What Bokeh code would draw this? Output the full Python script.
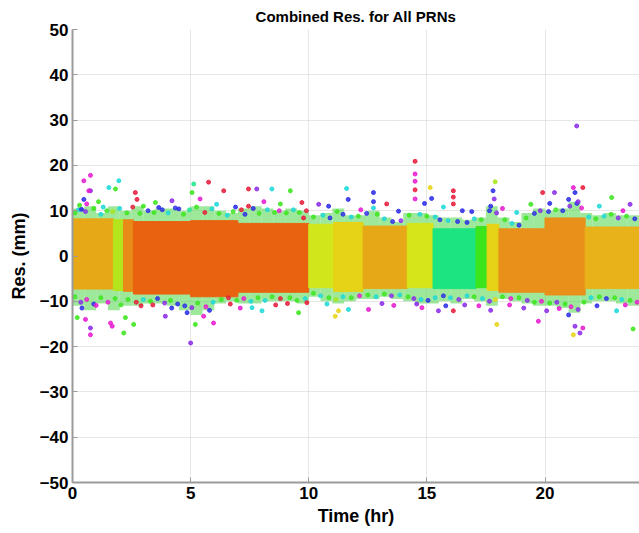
from bokeh.plotting import figure
from bokeh.models import FixedTicker, ColumnDataSource, Range1d
from bokeh.embed import file_html
from bokeh.resources import INLINE

# ---- core (dense) residual bands: one block per satellite pass segment ----
core_t0 = [0.0, 1.73, 2.16, 2.58, 5.0, 7.0, 10.0, 11.05, 12.3, 14.17, 15.26, 17.08, 17.55, 18.05, 20.0, 21.7]
core_t1 = [1.73, 2.16, 2.58, 5.0, 7.0, 10.0, 11.05, 12.3, 14.17, 15.26, 17.08, 17.55, 18.05, 20.0, 21.7, 24.0]
core_top = [8.2, 8.0, 8.0, 7.6, 7.8, 7.2, 7.0, 7.4, 6.6, 7.2, 6.0, 6.5, 7.0, 6.0, 8.4, 6.4]
core_bot = [-7.3, -7.6, -7.8, -8.4, -9.0, -8.0, -7.0, -7.8, -7.2, -7.0, -7.2, -7.0, -7.6, -8.0, -8.6, -7.2]
core_color = ["#E6A817", "#B4E41B", "#E88A18", "#E8620F", "#E8620F", "#E8620F", "#D2E61C",
              "#E6D216", "#E6A816", "#D6E41A", "#1CE480", "#3CE41C", "#E6D216", "#E8901A",
              "#E8901A", "#E8B21A"]

# ---- fringe envelope of scattered residuals, per half-hour bin ----
fringe_t0 = [i * 0.5 for i in range(48)]
fringe_hi = [10.5, 11, 9.5, 11, 10, 11, 10, 10.5, 10.5, 10, 11, 11, 10, 9.5, 10.5, 11,
             10.5, 10, 10.5, 10, 9, 9.5, 10.5, 9, 9, 10, 8.5, 7.5, 9.5, 9.5, 9, 8.5,
             8.5, 8, 8.5, 11, 8.5, 7.5, 9.5, 10.5, 10, 10.5, 12, 9.5, 9, 9.5, 9, 9]
fringe_lo = [-11, -12, -10.5, -12, -11, -11, -10.5, -10.5, -11, -12, -13, -12, -10.5, -10,
             -10.5, -10.5, -10, -10, -10, -10.5, -9, -10, -10.5, -10, -9.5, -9.5, -9, -9.5,
             -10, -10.5, -10.5, -10, -10.5, -9.5, -10, -11, -9.5, -10, -10.5, -11, -11,
             -11.5, -12.5, -10.5, -10, -10, -10.5, -11]

palette = ["#E81AD0", "#2A2AE8", "#3AE61A", "#1AD8D8", "#E81A3A", "#8A2AE8", "#A8E61A", "#E8D414", "#1AE68A"]

# ---- residuals in the fringe just outside the dense band (time hr, mm, colour index) ----
fr_t = [0.1, 0.25, 0.55, 0.9, 1.2, 1.45, 1.7, 2.0, 2.3, 2.55, 2.85, 3.2, 3.45, 3.8, 4.05, 4.35, 4.7,
        4.95, 5.25, 5.6, 5.9, 6.2, 6.55, 6.8, 7.15, 7.3, 7.65, 7.9, 8.25, 8.55, 8.75, 9.05, 9.35,
        9.6, 9.9, 10.2, 10.6, 10.9, 11.2, 11.45, 11.8, 12.1, 12.45, 12.9, 13.2, 13.55, 13.9, 14.25,
        14.7, 15.0, 15.35, 15.55, 15.9, 16.3, 16.7, 17.0, 17.3, 17.65, 17.95, 18.3, 18.6, 18.9,
        19.2, 19.55, 19.8, 20.15, 20.45, 20.75, 21.05, 21.35, 21.55, 21.85, 22.15, 22.5, 22.8,
        23.1, 23.45, 23.8,
        0.1, 0.35, 0.6, 0.9, 1.2, 1.5, 1.8, 2.05, 2.35, 2.7, 3.0, 3.3, 3.6, 3.9, 4.15, 4.45, 4.75,
        5.05, 5.3, 5.65, 5.95, 6.3, 6.6, 6.95, 7.25, 7.55, 7.85, 8.15, 8.45, 8.8, 9.2, 9.5, 9.85,
        10.2, 10.5, 10.85, 11.15, 11.45, 11.8, 12.15, 12.5, 12.85, 13.2, 13.5, 13.85, 14.2, 14.45,
        14.75, 15.05, 15.35, 15.7, 16.0, 16.35, 16.7, 17.0, 17.35, 17.65, 17.9, 18.2, 18.55, 18.9,
        19.25, 19.55, 19.85, 20.2, 20.5, 20.85, 21.1, 21.4, 21.65, 21.95, 22.3, 22.6, 22.95,
        23.25, 23.6, 23.9]
fr_r = [9.5, 10.2, 9.8, 10.5, 9.2, 10.0, 9.8, 10.5, 9.5, 10.8, 9.4, 10.0, 9.6, 10.2, 9.5, 10.6, 9.2,
        10.2, 10.8, 9.6, 10.4, 9.4, 9.0, 9.8, 10.2, 9.2, 10.5, 9.4, 10.2, 9.6, 10.0, 9.5, 10.2,
        9.6, 10.0, 8.6, 9.0, 8.4, 9.8, 9.2, 8.6, 8.8, 9.4, 9.2, 8.2, 7.6, 7.8, 9.0,
        9.2, 8.8, 8.6, 8.0, 7.8, 7.6, 7.4, 8.2, 8.0, 10.0, 9.5, 8.0, 7.2, 6.8,
        8.4, 9.4, 10.0, 9.8, 10.2, 10.0, 11.0, 11.6, 10.6, 8.6, 8.2, 8.8, 9.2,
        8.4, 8.8, 8.2,
        -9.0, -10.2, -9.6, -10.6, -9.2, -10.2, -9.4, -10.8, -9.6, -10.2, -9.6, -10.0, -9.4, -10.4, -9.8, -10.6, -11.0,
        -11.4, -10.4, -11.2, -10.2, -9.6, -9.2, -9.8, -9.4, -10.0, -9.2, -9.8, -9.0, -9.4, -9.2, -9.8, -9.4,
        -8.2, -8.8, -9.2, -9.6, -9.0, -9.2, -8.8, -8.6, -9.0, -8.4, -8.8, -8.6, -9.0, -9.4,
        -9.6, -9.8, -9.2, -8.8, -9.2, -9.6, -8.8, -9.0, -9.4, -10.0, -9.6, -9.0, -9.4, -9.2,
        -9.8, -10.2, -10.0, -10.4, -10.2, -10.6, -11.2, -11.8, -10.2, -9.2, -9.0, -9.4, -9.2,
        -9.6, -9.8, -10.2]
fr_c = [2, 3, 5, 2, 3, 2, 6, 3, 2, 4, 2, 1, 2, 1, 3, 1, 2,
        8, 2, 4, 3, 2, 3, 2, 4, 1, 1, 2, 3, 2, 0, 2, 3,
        2, 4, 2, 3, 1, 2, 1, 3, 2, 1, 2, 3, 1, 5, 2,
        3, 2, 3, 1, 3, 1, 1, 3, 2, 1, 5, 2, 3, 1,
        2, 1, 5, 1, 2, 1, 5, 1, 0, 3, 2, 3, 2,
        5, 2, 1,
        2, 5, 0, 1, 2, 0, 2, 2, 2, 4, 3, 2, 1, 5, 2, 1, 1,
        5, 2, 0, 3, 2, 4, 2, 0, 3, 2, 3, 2, 4, 2, 2, 3,
        2, 3, 2, 6, 3, 2, 0, 2, 3, 2, 5, 3, 2, 5,
        3, 1, 3, 1, 3, 5, 3, 2, 3, 5, 7, 2, 0, 2,
        5, 2, 0, 2, 5, 2, 0, 5, 2, 3, 2, 1, 2,
        3, 2, 0]

# ---- individual outlying residuals (time hr, residual mm, colour index) ----
out_t = [0.48, 0.76, 0.76, 0.69, 0.48, 0.38, 0.6, 0.3, 1.96, 1.54, 1.82, 1.1, 1.3, 2.66, 2.73, 3.0,
         3.51, 3.65, 4.21, 4.5, 5.06, 5.13, 5.76, 5.4, 6.4, 6.1, 6.9, 7.45, 7.45, 7.8, 8.1, 8.44,
         8.8, 9.22, 9.71, 9.78, 10.42, 10.84, 11.6, 11.67, 12.2, 12.74, 12.74, 12.74, 13.3, 13.8,
         14.5, 14.5, 14.5, 14.5, 14.5, 14.9, 15.14, 15.2, 15.7, 16.12, 16.12, 16.12, 16.5, 16.9,
         17.89, 17.8, 17.85, 17.7, 18.2, 18.8, 19.4, 19.9, 20.4, 20.2, 21.2, 21.27, 21.6, 21.0,
         21.4, 21.34, 22.3, 22.82, 23.6, 23.3,
         0.2, 0.76, 0.76, 0.55, 0.4, 1.0, 1.61, 1.68, 2.17, 2.59, 2.24, 2.9, 3.4, 3.93, 4.2, 4.85,
         5.0, 5.2, 5.55, 5.97, 5.8, 6.68, 7.1, 7.6, 8.02, 8.6, 9.1, 9.57, 9.92, 10.77, 11.12,
         11.26, 11.68, 12.53, 13.1, 13.6, 14.57, 14.79, 15.49, 15.8, 16.12, 16.6, 17.2, 17.96,
         17.7, 18.5, 19.1, 19.72, 20.07, 20.6, 21.27, 21.2, 21.48, 21.6, 21.0, 22.2, 23.03,
         23.73, 23.4]
out_r = [16.6, 17.8, 14.4, 14.4, 12.5, 10.3, 11.5, 11.2, 16.6, 15.1, 14.8, 12.0, 10.8, 14.0, 12.5, 11.0,
         11.8, 10.7, 12.2, 10.4, 14.0, 15.9, 16.3, 12.6, 14.4, 11.4, 10.8, 14.8, 11.0, 14.8, 12.0, 14.8,
         11.5, 14.4, 11.8, 8.4, 11.4, 11.0, 14.9, 12.5, 10.2, 14.0, 12.0, 10.6, 11.5, 9.9,
         20.9, 18.1, 16.5, 14.6, 12.6, 11.6, 15.1, 12.7, 10.8, 14.4, 13.0, 11.5, 10.0, 9.8,
         16.4, 14.4, 12.6, 11.0, 10.5, 9.6, 11.4, 14.0, 14.0, 11.6, 15.1, 14.0, 15.1, 12.5,
         12.0, 28.7, 11.0, 12.9, 11.4, 10.0,
         -13.6, -15.9, -17.4, -14.0, -11.5, -10.9, -14.8, -15.5, -17.0, -15.1, -13.6, -11.0, -10.8, -13.3, -11.5, -12.5,
         -19.2, -15.1, -13.3, -14.8, -12.0, -10.6, -11.5, -11.4, -12.1, -10.8, -10.5, -12.5, -10.3, -10.6, -13.3,
         -12.1, -11.8, -11.8, -10.5, -10.9, -10.6, -11.4, -12.1, -11.0, -12.1, -10.8, -11.0, -15.1,
         -12.0, -10.8, -11.5, -14.4, -12.1, -11.6, -15.5, -17.4, -17.0, -15.9, -13.0, -11.0, -12.1,
         -16.1, -10.8]
out_c = [0, 0, 5, 0, 1, 1, 0, 2, 3, 3, 2, 2, 3, 4, 4, 2,
         2, 1, 5, 1, 2, 8, 4, 0, 4, 3, 1, 4, 4, 5, 0, 3,
         2, 2, 4, 4, 5, 1, 3, 1, 0, 1, 1, 3, 4, 1,
         4, 0, 0, 4, 0, 1, 7, 1, 3, 4, 4, 4, 1, 1,
         6, 1, 5, 1, 0, 3, 2, 4, 5, 1, 0, 1, 4, 1,
         5, 5, 3, 2, 5, 0,
         2, 5, 0, 0, 1, 0, 0, 0, 2, 2, 2, 4, 4, 5, 1, 1,
         5, 2, 0, 0, 1, 4, 0, 3, 3, 4, 4, 2, 4, 3, 7,
         7, 3, 0, 5, 0, 5, 0, 5, 1, 4, 5, 0, 7,
         5, 0, 5, 0, 5, 0, 5, 7, 5, 0, 1, 1, 3,
         2, 0]

x_ticks = [0, 5, 10, 15, 20]
y_ticks = [-50, -40, -30, -20, -10, 0, 10, 20, 30, 40, 50]

p = figure(width=639, height=533, output_backend="svg", toolbar_location=None,
           x_range=Range1d(0, 24), y_range=Range1d(-50, 50),
           title="Combined Res. for All PRNs",
           min_border_left=72, min_border_right=0, min_border_top=10, min_border_bottom=51)
p.outline_line_color = None
p.background_fill_color = "white"
p.border_fill_color = "white"

# fringe envelope
p.quad(left=fringe_t0, right=[t + 0.5 for t in fringe_t0], bottom=fringe_lo, top=fringe_hi,
       fill_color="#5ED85A", fill_alpha=0.6, line_color=None)
# core bands
p.quad(left=core_t0, right=core_t1, bottom=core_bot, top=core_top,
       fill_color=core_color, line_color=core_color, line_width=1)
# fringe residuals
fsrc = ColumnDataSource(dict(t=fr_t, r=fr_r, c=[palette[i] for i in fr_c]))
p.scatter("t", "r", source=fsrc, size=4, fill_color="c", line_color="c", fill_alpha=0.8, line_alpha=0.8)
# outliers
src = ColumnDataSource(dict(t=out_t, r=out_r, c=[palette[i] for i in out_c]))
p.scatter("t", "r", source=src, size=4, fill_color="c", line_color="c", fill_alpha=0.85, line_alpha=0.85)

# axes / grid
p.xaxis.ticker = FixedTicker(ticks=x_ticks)
p.yaxis.ticker = FixedTicker(ticks=y_ticks)
p.xgrid.ticker = FixedTicker(ticks=x_ticks)
p.ygrid.ticker = FixedTicker(ticks=y_ticks)
for g in (p.xgrid, p.ygrid):
    g.grid_line_color = "#CFCFCF"
    g.grid_line_dash = "1 1"
    g.grid_line_width = 1
for ax in (p.xaxis, p.yaxis):
    ax.axis_line_color = "#9A9A9A"
    ax.axis_line_width = 2
    ax.major_tick_in = 5
    ax.major_tick_out = 0
    ax.major_tick_line_color = "#9A9A9A"
    ax.minor_tick_line_color = None
    ax.major_label_text_font = "Liberation Sans"
    ax.major_label_text_font_style = "bold"
    ax.major_label_text_font_size = "17px"
    ax.major_label_text_color = "black"
    ax.axis_label_text_font = "Liberation Sans"
    ax.axis_label_text_font_style = "bold"
    ax.axis_label_text_font_size = "18px"
    ax.axis_label_text_color = "black"
p.xaxis.axis_label = "Time (hr)"
p.yaxis.axis_label = "Res. (mm)"
p.xaxis.major_label_standoff = 4
p.yaxis.major_label_standoff = 4
p.xaxis.axis_label_standoff = 4
p.yaxis.axis_label_standoff = 8

p.title.text_font = "Liberation Sans"
p.title.text_font_style = "bold"
p.title.text_font_size = "15px"
p.title.align = "center"
p.title.text_color = "black"

open("out.html", "w").write(file_html(p, INLINE))
